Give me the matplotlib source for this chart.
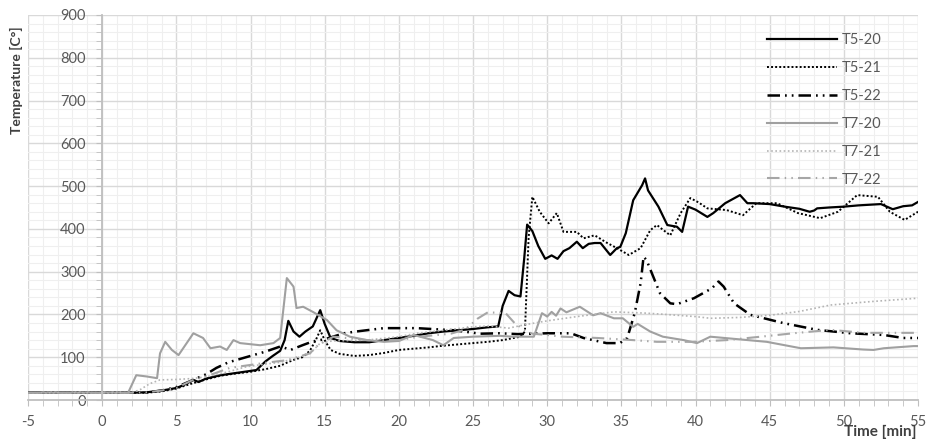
import numpy as np
import matplotlib
matplotlib.use("Agg")
import matplotlib.pyplot as plt
from matplotlib.ticker import MultipleLocator

plt.rcParams['font.family'] = ['Lato', 'DejaVu Sans']
plt.rcParams['axes.unicode_minus'] = False

# Daten (Zeit [min], Temperatur [C])
t5_20_t = [-5, 0, 2, 3, 4, 5, 5.5, 6.15, 6.5, 7, 8, 9, 10, 10.4, 11, 11.5, 12, 12.3, 12.55, 12.9,
           13.3, 13.7, 14.2, 14.7, 15.0, 15.4, 16, 17, 18, 19, 20, 21, 22, 23, 24, 25, 26, 26.7,
           27.0, 27.4, 27.8, 28.2, 28.45, 28.65, 29.0, 29.4, 29.87, 30.3, 30.7, 31.1, 31.5, 32.0,
           32.4, 32.8, 33.2, 33.6, 34.25, 34.7, 34.93, 35.3, 35.8, 36.4, 36.6, 36.8, 37.5, 38.1,
           38.75, 39.1, 39.5, 40.0, 40.8, 41.2, 42.0, 43.0, 43.5, 43.9, 45.0, 46.0, 47.0, 47.7,
           48.0, 48.2, 49.0, 50.0, 51.0, 52.5, 53.3, 54.0, 54.6, 55]
t5_20_v = [17, 17, 17, 18, 22, 28, 35, 47, 42, 50, 58, 63, 68, 70, 90, 103, 115, 140, 185, 160,
           148, 160, 172, 210, 178, 145, 138, 135, 135, 140, 145, 150, 156, 160, 163, 166, 170, 172,
           220, 255, 245, 242, 330, 410, 395, 360, 330, 338, 330, 348, 355, 370, 355, 365, 367, 367,
           339, 355, 358, 390, 467, 502, 518, 490, 452, 409, 405, 393, 452, 445, 428, 437, 460, 479,
           460, 460, 458, 452, 447, 440, 443, 448, 450, 452, 455, 458, 446, 453, 455, 463]

t5_21_t = [-5, 0, 2, 3, 4, 5, 6, 7, 8, 9, 10, 11, 12, 12.5, 13, 13.5, 14.0, 14.4, 14.7, 15.0, 15.4,
           16, 17, 18, 19, 20, 21, 22, 23, 24, 25, 26, 27, 28.2, 28.5, 28.75, 29.0, 29.5, 30.1,
           30.65, 31.1, 32.0, 32.45, 33.2, 34.0, 34.7, 35.5, 36.3, 36.95, 37.4, 37.8, 38.3, 39.0,
           39.65, 40.2, 40.8, 42.1, 43.2, 44.1, 45.5, 46.9, 48.4, 49.6, 50.9, 52.3, 53.1, 54.1, 55]
t5_21_v = [17, 17, 17, 17, 20, 27, 38, 48, 57, 62, 66, 72, 80, 88, 95, 100, 115, 140, 163, 140, 117,
           108, 103, 105, 110, 117, 120, 123, 127, 130, 133, 136, 140, 148, 160, 380, 475, 440, 413,
           437, 393, 393, 378, 385, 368, 355, 339, 355, 397, 409, 398, 385, 437, 472, 462, 448, 444,
           432, 460, 460, 437, 425, 440, 479, 475, 440, 421, 440]

t5_22_t = [-5, 0, 2, 3, 4, 5, 6, 7, 7.7, 8.5, 9.5, 10.2, 11, 12.0, 12.3, 12.7, 13.5, 14.2, 15.0,
           16.3, 17.1, 19.0, 21.2, 23.7, 25.5, 26.8, 28.0, 30.0, 31.6, 32.45, 34.0, 34.9, 35.4,
           35.9, 36.3, 36.5, 36.7, 37.6, 38.3, 38.75, 39.9, 41.1, 41.55, 41.9, 42.6, 43.7, 45.9,
           48.2, 50.45, 52.7, 54.0, 55]
t5_22_v = [17, 17, 17, 18, 22, 30, 45, 60, 75, 88, 98, 105, 113, 125, 122, 117, 128, 137, 142,
           156, 160, 168, 168, 163, 155, 156, 154, 156, 156, 145, 133, 133, 145,
           203, 273, 335, 327, 250, 226, 224, 238, 261, 277, 265, 226, 199, 180,
           164, 156, 152, 145, 145]

t7_20_t = [-5, 0, 1.75, 2.3, 3.0, 3.7, 3.9, 4.25, 4.7, 5.15, 5.6, 6.15, 6.8, 7.3, 7.95, 8.4, 8.85,
           9.3, 10.65, 11.55, 12.0, 12.45, 12.9, 13.1, 13.55, 14.2, 15.15, 15.8, 16.7, 17.85, 19.0,
           20.0, 21.0, 22.3, 23.0, 23.7, 25.0, 26.8, 27.7, 29.1, 29.65, 30.0, 30.3, 30.6, 30.9,
           31.3, 32.2, 33.1, 33.6, 34.5, 35.1, 35.8, 36.1, 36.95, 37.8, 39.2, 40.1, 41.0, 44.8,
           47.1, 49.3, 51.3, 52.0, 52.7, 54.7, 55]
t7_20_v = [17, 17, 17, 58, 55, 51, 109, 136, 117, 105, 128, 156, 145, 121, 125, 117, 140,
           133, 128, 133, 145, 285, 265, 215, 218, 206, 187, 163, 148, 140, 136,
           138, 152, 140, 128, 145, 148, 150, 148, 148, 203, 195, 206, 197, 214,
           205, 218, 198, 203, 191, 191, 171, 178, 160, 148, 140, 133, 148, 136,
           121, 123, 118, 117, 121, 126, 126]

t7_21_t = [-5, 0, 2, 2.6, 3.2, 3.9, 5, 6, 7, 7.5, 8.5, 9.75, 11, 12, 13, 14.0, 14.7, 15.5, 17.85,
           20, 21.2, 23, 25.0, 26, 27.4, 28.5, 30, 32, 34.5, 36.7, 38, 40, 41, 43, 45, 47, 49.1,
           51.8, 55]
t7_21_v = [17, 17, 17, 25, 38, 47, 48, 50, 54, 58, 66, 78, 84, 88, 97, 108, 133, 138, 140,
           148, 156, 163, 171, 173, 168, 176, 185, 195, 206, 203, 200, 195, 191, 193, 198, 207, 222,
           230, 238]

t7_22_t = [-5, 0, 2, 3, 4, 5, 6, 7, 8.6, 10, 11, 12.45, 14.0, 14.6, 15.6, 17.85, 20.1, 20.8, 22,
           23.5, 24.5, 25.3, 26.0, 27.2, 27.8, 28.4, 29, 30, 31, 33.4, 35.8, 37.4, 39.85, 42.1,
           44.4, 46.6, 49.1, 50.4, 51.3, 53.1, 55]
t7_22_v = [17, 17, 17, 18, 22, 28, 45, 55, 75, 82, 87, 93, 109, 130, 148, 140, 140, 145, 150,
           155, 165, 190, 205, 203, 180, 165, 155, 152, 148, 145, 140, 136, 136, 140,
           148, 156, 164, 160, 157, 157, 157]

labels = ['T5-20', 'T5-21', 'T5-22', 'T7-20', 'T7-21', 'T7-22']

fig = plt.figure(figsize=(9.27, 4.40), dpi=100)
ax = fig.add_axes([28/927, 40/440, 890/927, 385/440])

ax.plot(t5_20_t, t5_20_v, color='black', lw=1.6, label=labels[0])
ax.plot(t5_21_t, t5_21_v, color='black', lw=1.4, dashes=(1, 1.1), label=labels[1])
ax.plot(t5_22_t, t5_22_v, color='black', lw=1.8, dashes=(5, 2, 0.7, 2, 0.7, 2), label=labels[2])
ax.plot(t7_20_t, t7_20_v, color='#a0a0a0', lw=1.5, label=labels[3])
ax.plot(t7_21_t, t7_21_v, color='#b4b4b4', lw=1.2, dashes=(1, 1.5), label=labels[4])
ax.plot(t7_22_t, t7_22_v, color='#a6a6a6', lw=1.5, dashes=(6, 2.5, 0.7, 2.5, 0.7, 2.5), label=labels[5])

ax.set_xlim(-5, 55)
ax.set_ylim(0, 900)
ax.xaxis.set_major_locator(MultipleLocator(5))
ax.xaxis.set_minor_locator(MultipleLocator(1))
ax.yaxis.set_major_locator(MultipleLocator(100))
ax.yaxis.set_minor_locator(MultipleLocator(20))

ax.grid(which='major', color='#d9d9d9', lw=1.0)
ax.grid(which='minor', color='#efefef', lw=0.8)
ax.set_axisbelow(True)

for s in ['top', 'right']:
    ax.spines[s].set_visible(False)
ax.spines['left'].set_position(('data', 0))
ax.spines['left'].set_color('#bfbfbf')
ax.spines['bottom'].set_color('#bfbfbf')
ax.spines['left'].set_linewidth(1.3)
ax.spines['bottom'].set_linewidth(1.3)

ax.tick_params(which='both', direction='out', color='#bfbfbf', labelcolor='#595959', labelsize=10.5)
ax.tick_params(axis='x', which='both', length=4, pad=7)
ax.tick_params(axis='y', which='both', length=4, pad=8)

ax.set_ylabel('Temperature [C°]', fontsize=10, fontweight='bold', color='#404040')
ax.yaxis.set_label_coords(-0.006, 0.83)
fig.text(917/927, 1 - 432/440, 'Time [min]', fontsize=11, fontweight='bold', color='#404040',
         ha='right', va='center')

leg = ax.legend(loc='upper left', bbox_to_anchor=(760/927, 1 - 26/440), bbox_transform=fig.transFigure,
                frameon=False, fontsize=10.5, handlelength=4.8, handletextpad=0.3,
                labelspacing=0.95, borderpad=0)
for txt in leg.get_texts():
    txt.set_color('#595959')

fig.savefig('out.png', dpi=100)
